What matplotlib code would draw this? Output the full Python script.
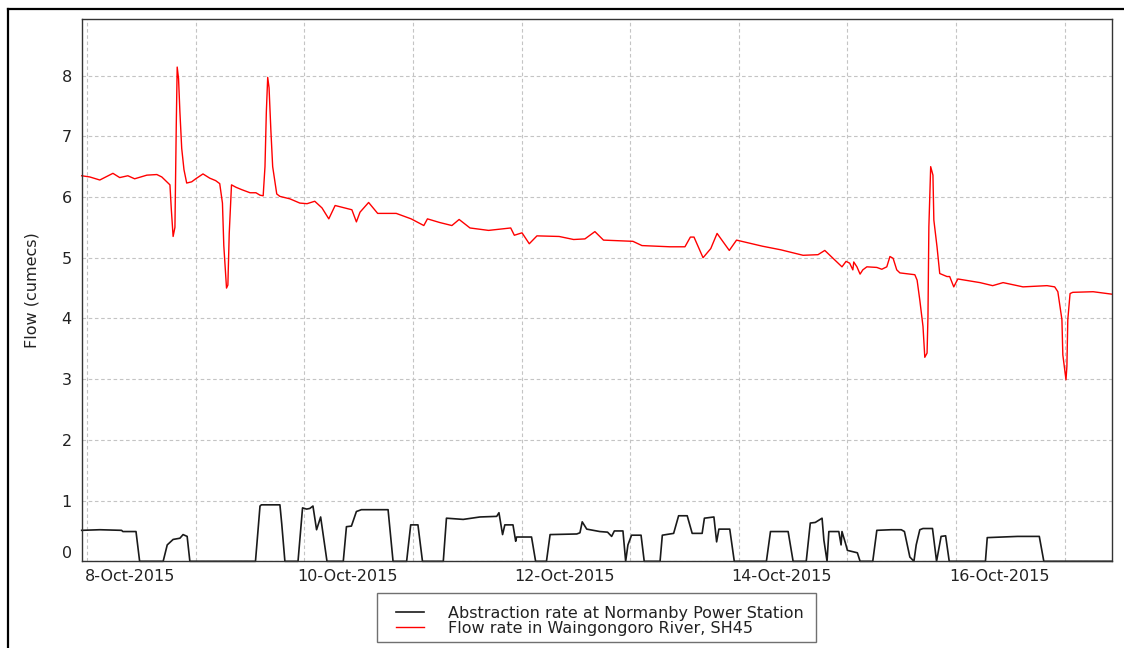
import pandas as pd
import matplotlib
matplotlib.use("Agg")
import matplotlib.pyplot as plt
import matplotlib.dates as mdates
import matplotlib.transforms as mtransforms
from matplotlib.ticker import NullFormatter
from matplotlib.patches import Rectangle
from matplotlib.lines import Line2D

START = pd.Timestamp("2015-10-08 00:00")

# Flow rate in Waingongoro River at SH45 (hours after 8-Oct-2015 00:00, cumecs)
flow_hours = [
    -1.2, 0.6, 2.8, 4.1, 5.7, 7.2, 9.0, 10.5, 13.2, 15.4,
    16.5, 17.6, 18.3, 18.6, 19.0, 19.4, 19.7, 19.9, 20.2, 20.5,
    20.9, 21.4, 22.0, 23.1, 24.0, 25.6, 27.1, 28.4, 29.3, 29.9,
    30.2, 30.8, 31.1, 31.4, 31.9, 32.9, 34.2, 36.0, 37.3, 38.2,
    38.9, 39.3, 39.6, 39.9, 40.2, 40.6, 41.0, 41.9, 42.6, 44.8,
    47.0, 48.6, 50.3, 51.9, 53.4, 54.8, 56.9, 58.5, 59.5, 60.3,
    62.2, 64.2, 68.3, 71.6, 74.4, 75.2, 77.9, 80.6, 82.2, 84.6,
    88.7, 93.6, 94.4, 96.1, 97.7, 99.4, 104.3, 107.5, 110.0, 112.2,
    114.1, 120.6, 122.6, 128.8, 132.1, 133.3, 134.1, 136.1, 137.8, 139.2,
    141.9, 143.5, 149.2, 153.3, 158.2, 161.5, 163.0, 164.7, 166.8, 167.7,
    168.5, 169.2, 169.4, 170.1, 170.8, 171.4, 172.3, 174.5, 175.6, 176.7,
    177.4, 178.1, 178.9, 179.6, 182.9, 183.4, 184.0, 184.7, 185.1, 185.6,
    185.8, 186.0, 186.4, 186.9, 187.1, 187.8, 188.4, 190.0, 190.6, 191.5,
    192.4, 197.3, 200.1, 202.4, 206.8, 212.1, 213.8, 214.5, 215.4, 215.6,
    216.3, 216.5, 216.7, 217.2, 217.8, 222.3, 226.4,
]
flow_values = [
    6.35, 6.33, 6.28, 6.33, 6.39, 6.32, 6.35, 6.30, 6.36, 6.37,
    6.33, 6.25, 6.20, 5.80, 5.35, 5.50, 7.20, 8.14, 7.95, 7.40,
    6.80, 6.45, 6.23, 6.25, 6.30, 6.38, 6.31, 6.27, 6.22, 5.90,
    5.20, 4.50, 4.55, 5.40, 6.20, 6.16, 6.12, 6.07, 6.07, 6.03,
    6.02, 6.50, 7.40, 7.97, 7.80, 7.10, 6.50, 6.05, 6.01, 5.97,
    5.90, 5.89, 5.93, 5.82, 5.64, 5.86, 5.82, 5.79, 5.59, 5.75,
    5.91, 5.73, 5.73, 5.64, 5.53, 5.64, 5.58, 5.53, 5.63, 5.49,
    5.45, 5.49, 5.37, 5.41, 5.23, 5.36, 5.35, 5.30, 5.31, 5.43,
    5.29, 5.27, 5.20, 5.18, 5.18, 5.34, 5.34, 5.00, 5.15, 5.40,
    5.12, 5.29, 5.19, 5.13, 5.04, 5.05, 5.12, 5.00, 4.85, 4.94,
    4.91, 4.80, 4.93, 4.85, 4.73, 4.80, 4.85, 4.84, 4.81, 4.85,
    5.02, 4.99, 4.80, 4.75, 4.72, 4.63, 4.30, 3.87, 3.36, 3.43,
    4.03, 5.51, 6.50, 6.36, 5.62, 5.18, 4.74, 4.69, 4.69, 4.52,
    4.65, 4.59, 4.54, 4.59, 4.52, 4.54, 4.52, 4.44, 3.98, 3.40,
    2.99, 3.21, 3.98, 4.41, 4.43, 4.44, 4.40,
]

# Abstraction rate at Normanby Power Station (hours after 8-Oct-2015 00:00, cumecs)
abstraction_hours = [
    -1.2, 2.8, 7.6, 7.9, 10.8, 11.6, 16.8, 17.7, 19.0, 20.5,
    21.2, 22.1, 22.7, 37.2, 38.2, 38.5, 42.6, 43.0, 43.7, 46.6,
    47.6, 48.5, 49.2, 49.9, 50.7, 51.6, 53.0, 56.6, 57.3, 58.4,
    59.5, 60.6, 66.5, 67.6, 70.6, 71.5, 73.1, 74.1, 78.7, 79.4,
    83.1, 86.8, 90.5, 91.0, 91.2, 91.8, 92.3, 94.1, 94.7, 94.9,
    98.2, 99.1, 101.5, 102.3, 108.2, 108.9, 109.4, 110.4, 113.3, 115.0,
    115.9, 116.5, 118.4, 119.0, 119.5, 120.3, 122.4, 123.1, 126.6, 127.1,
    129.6, 130.7, 132.6, 133.7, 135.9, 136.4, 138.5, 139.1, 139.6, 142.0,
    143.0, 150.1, 151.0, 154.9, 156.0, 158.9, 159.8, 160.9, 162.4, 162.8,
    163.5, 163.9, 166.1, 166.6, 166.8, 167.6, 168.0, 170.2, 170.8, 173.6,
    174.5, 177.7, 179.9, 180.6, 181.8, 182.7, 183.2, 184.0, 184.7, 186.8,
    187.7, 188.7, 189.7, 190.5, 198.5, 198.9, 205.6, 210.4, 211.4, 226.4,
]
abstraction_values = [
    0.51, 0.52, 0.51, 0.49, 0.49, 0.0, 0.0, 0.27, 0.36, 0.38,
    0.44, 0.41, 0.0, 0.0, 0.91, 0.93, 0.93, 0.62, 0.0, 0.0,
    0.88, 0.86, 0.87, 0.91, 0.52, 0.73, 0.0, 0.0, 0.57, 0.58,
    0.82, 0.85, 0.85, 0.0, 0.0, 0.60, 0.60, 0.0, 0.0, 0.71,
    0.69, 0.73, 0.74, 0.80, 0.71, 0.44, 0.60, 0.60, 0.33, 0.40,
    0.40, 0.0, 0.0, 0.44, 0.45, 0.47, 0.65, 0.53, 0.49, 0.48,
    0.41, 0.50, 0.50, 0.0, 0.27, 0.43, 0.43, 0.0, 0.0, 0.43,
    0.46, 0.75, 0.75, 0.46, 0.46, 0.71, 0.73, 0.32, 0.53, 0.53,
    0.0, 0.0, 0.49, 0.49, 0.0, 0.0, 0.63, 0.64, 0.71, 0.35,
    0.0, 0.49, 0.49, 0.27, 0.49, 0.29, 0.18, 0.14, 0.0, 0.0,
    0.51, 0.52, 0.52, 0.49, 0.07, 0.0, 0.27, 0.52, 0.54, 0.54,
    0.0, 0.41, 0.42, 0.0, 0.0, 0.39, 0.41, 0.41, 0.0, 0.0,
]

date_label_days = ["2015-10-08", "2015-10-10", "2015-10-12", "2015-10-14", "2015-10-16"]
date_labels = ["8-Oct-2015", "10-Oct-2015", "12-Oct-2015", "14-Oct-2015", "16-Oct-2015"]
y_ticks = [0, 1, 2, 3, 4, 5, 6, 7, 8]

series_names = ["Abstraction rate at Normanby Power Station",
                "Flow rate in Waingongoro River, SH45"]

FONT = 11.5
TEXT_COLOR = "#222222"
GRID_COLOR = "#c4c4c4"
plt.rcParams["font.family"] = ["DejaVu Sans"]


def to_time(hours):
    return START + pd.to_timedelta(pd.Series(hours, dtype=float), unit="h")


fig = plt.figure(figsize=(11.24, 6.48), dpi=100)
ax = fig.add_axes([81.7 / 1124, 1 - 561.3 / 648, 1030 / 1124, 542.8 / 648])

ax.plot(to_time(abstraction_hours), abstraction_values, color="#1a1a1a",
        lw=1.2, label=series_names[0], clip_on=False, zorder=3)
ax.plot(to_time(flow_hours), flow_values, color="#ff0000",
        lw=1.0, label=series_names[1], clip_on=False, zorder=3)

ax.set_xlim(START - pd.Timedelta(hours=1.2), START + pd.Timedelta(hours=226.4))
ax.set_ylim(0, 8.94)

# daily gridlines, labels every second day
ax.xaxis.set_major_locator(mdates.DayLocator())
ax.xaxis.set_major_formatter(NullFormatter())
label_pos = [pd.Timestamp(d) + pd.Timedelta(hours=9.5) for d in date_label_days]
ax.set_xticks(label_pos, minor=True)
ax.set_xticklabels(date_labels, minor=True)
ax.set_yticks(y_ticks)
ax.set_yticklabels([str(v) for v in y_ticks])

grid_style = dict(color=GRID_COLOR, linestyle=(0, (3.2, 2.4)), linewidth=0.8)
ax.grid(True, which="major", axis="both", **grid_style)
ax.set_axisbelow(True)

ax.tick_params(axis="x", which="both", length=0, pad=5.5,
               labelsize=FONT, labelcolor=TEXT_COLOR)
ax.tick_params(axis="y", length=0, pad=7.2, labelsize=FONT, labelcolor=TEXT_COLOR)

# lift the zero label clear of the baseline
zero_lbl = ax.get_yticklabels()[0]
zero_lbl.set_transform(zero_lbl.get_transform() +
                       mtransforms.ScaledTranslation(0, 9.6 / 100, fig.dpi_scale_trans))

for sp in ax.spines.values():
    sp.set_color("#333333")
    sp.set_linewidth(1.0)
    sp.set_zorder(4)

ax.set_ylabel("Flow (cumecs)", fontsize=FONT, color=TEXT_COLOR)
ax.yaxis.set_label_coords(-0.041, 0.5)

# legend box below the plot
fig.add_artist(Rectangle((377 / 1124, 6 / 648), 439 / 1124, 49 / 648,
                         transform=fig.transFigure, fill=False,
                         edgecolor="#707070", linewidth=1.0))
ax.legend(loc="upper left", bbox_to_anchor=(396 / 1124, 1 - 606 / 648),
          bbox_transform=fig.transFigure, frameon=False, borderpad=0,
          borderaxespad=0, handlelength=1.75, handletextpad=1.5,
          labelspacing=0.0, fontsize=FONT, labelcolor=TEXT_COLOR)

# outer panel border
fig.add_artist(Line2D([8 / 1124, 8 / 1124], [0, 1 - 9 / 648],
                      transform=fig.transFigure, color="black", lw=1.6))
fig.add_artist(Line2D([8 / 1124, 1], [1 - 9 / 648, 1 - 9 / 648],
                      transform=fig.transFigure, color="black", lw=1.6))

fig.savefig("out.png", dpi=100)
